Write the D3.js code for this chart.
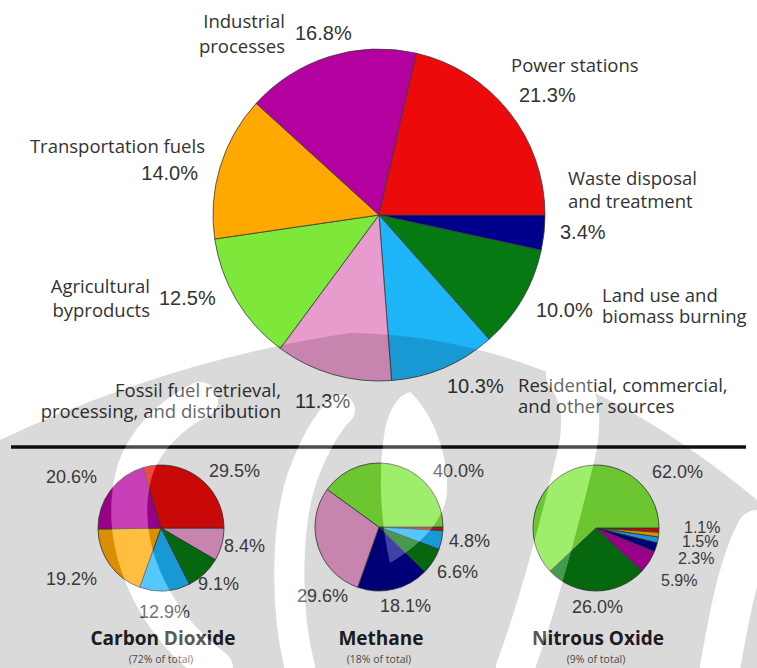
<!DOCTYPE html>
<html>
<head>
<meta charset="utf-8">
<script src="https://cdn.jsdelivr.net/npm/d3@7"></script>
<style>
  html, body { margin: 0; padding: 0; background: #ffffff; }
  svg { display: block; }
</style>
</head>
<body>
<script>
// Greenhouse gas emissions by sector, with the breakdown for each gas.

// Sources (clockwise from 3 o'clock) and their share of all emissions, %
const sources = [
  "Waste disposal and treatment",
  "Land use and biomass burning",
  "Residential, commercial, and other sources",
  "Fossil fuel retrieval, processing, and distribution",
  "Agricultural byproducts",
  "Transportation fuels",
  "Industrial processes",
  "Power stations"
];
const allShares = [3.4, 10.0, 10.3, 11.3, 12.5, 14.0, 16.8, 21.3];

// Colour of each source
const sourceColors = ["#00008c", "#067a12", "#1eb4f8", "#e89bcd", "#7ee83a", "#ffa800", "#b4009f", "#ec0a0a"];

// Carbon dioxide, clockwise from 3 o'clock
const co2Sources = [
  "Fossil fuel retrieval, processing, and distribution",
  "Land use and biomass burning",
  "Residential, commercial, and other sources",
  "Transportation fuels",
  "Industrial processes",
  "Power stations"
];
const co2Shares = [8.4, 9.1, 12.9, 19.2, 20.6, 29.5];

// Methane, clockwise from 3 o'clock
const ch4Sources = [
  "Power stations",
  "Residential, commercial, and other sources",
  "Land use and biomass burning",
  "Waste disposal and treatment",
  "Fossil fuel retrieval, processing, and distribution",
  "Agricultural byproducts"
];
const ch4Shares = [0.9, 4.8, 6.6, 18.1, 29.6, 40.0];

// Nitrous oxide, clockwise from 3 o'clock
const n2oSources = [
  "Power stations",
  "Transportation fuels",
  "Residential, commercial, and other sources",
  "Waste disposal and treatment",
  "Industrial processes",
  "Land use and biomass burning",
  "Agricultural byproducts"
];
const n2oShares = [1.1, 1.2, 1.5, 2.3, 5.9, 26.0, 62.0];

// Gas names and their share of the total
const gasNames = ["Carbon Dioxide", "Methane", "Nitrous Oxide"];
const gasTotals = ["(72% of total)", "(18% of total)", "(9% of total)"];

// Values that carry a printed label in the small pies
const co2Labelled = [8.4, 9.1, 12.9, 19.2, 20.6, 29.5];
const ch4Labelled = [4.8, 6.6, 18.1, 29.6, 40.0];
const n2oLabelled = [1.1, 1.5, 2.3, 5.9, 26.0, 62.0];

// ---------------------------------------------------------------------------
const W = 757, H = 668;
const svg = d3.select("body").append("svg")
  .attr("width", W).attr("height", H)
  .attr("viewBox", `0 0 ${W} ${H}`);

const color = d3.scaleOrdinal().domain(sources).range(sourceColors);
const fmt = d3.format(".1f");

const LABEL_FONT = "'Open Sans', 'Noto Sans', sans-serif";
const VALUE_FONT = "'Liberation Sans', Arial, sans-serif";

function drawPie(cx, cy, r, names, shares) {
  const pie = d3.pie().sort(null).value(d => d.v)
    .startAngle(Math.PI / 2).endAngle(Math.PI / 2 + 2 * Math.PI);
  const arc = d3.arc().innerRadius(0).outerRadius(r);
  const g = svg.append("g").attr("transform", `translate(${cx},${cy})`);
  g.selectAll("path")
    .data(pie(names.map((n, i) => ({ n, v: shares[i] }))))
    .join("path")
    .attr("d", arc)
    .attr("fill", d => color(d.data.n))
    .attr("stroke", "#3a3a3a")
    .attr("stroke-width", 0.8)
    .attr("stroke-linejoin", "round");
  return g;
}

// ---- main pie -------------------------------------------------------------
drawPie(379, 215, 166, sources, allShares);

// Category captions: lines, anchor, x, first baseline, line gap
const captionLayout = [
  { lines: ["Waste disposal", "and treatment"], anchor: "start", x: 568, y: 185, gap: 23 },
  { lines: ["Land use and", "biomass burning"], anchor: "start", x: 602, y: 302, gap: 21 },
  { lines: ["Residential, commercial,", "and other sources"], anchor: "start", x: 518, y: 392, gap: 21 },
  { lines: ["Fossil fuel retrieval,", "processing, and distribution"], anchor: "end", x: 281, y: 397, gap: 21 },
  { lines: ["Agricultural", "byproducts"], anchor: "end", x: 150, y: 293, gap: 24 },
  { lines: ["Transportation fuels"], anchor: "end", x: 205, y: 153, gap: 0 },
  { lines: ["Industrial", "processes"], anchor: "end", x: 285, y: 28, gap: 25 },
  { lines: ["Power stations"], anchor: "start", x: 511, y: 72, gap: 0 }
];
// Position of each percentage of the main pie: x, baseline, anchor
const valueLayout = [
  [560, 239, "start"], [536, 317, "start"], [447, 393, "start"], [295, 408, "start"],
  [159, 305, "start"], [198, 180, "end"], [295, 40, "start"], [519, 102, "start"]
];

const mainText = svg.append("g").attr("fill", "#333");
captionLayout.forEach(c => {
  const t = mainText.append("text")
    .attr("font-family", LABEL_FONT).attr("font-size", 18.5)
    .attr("text-anchor", c.anchor);
  c.lines.forEach((ln, i) => {
    t.append("tspan").attr("x", c.x).attr("y", c.y + i * c.gap).text(ln);
  });
});
allShares.forEach((v, i) => {
  const [x, y, a] = valueLayout[i];
  mainText.append("text")
    .attr("x", x).attr("y", y).attr("text-anchor", a)
    .attr("font-family", VALUE_FONT).attr("font-size", 20)
    .text(fmt(v) + "%");
});

// ---- divider --------------------------------------------------------------
svg.append("line")
  .attr("x1", 11).attr("x2", 746).attr("y1", 447).attr("y2", 447)
  .attr("stroke", "#111").attr("stroke-width", 3.5);

// ---- gas pies ---------------------------------------------------------------
const gasPies = [
  { cx: 161, cy: 528, r: 63, names: co2Sources, shares: co2Shares, labelled: co2Labelled, size: 18,
    spots: [[224, 552], [198, 590], [139, 618], [46, 585], [46, 483], [209, 477]] },
  { cx: 379, cy: 527, r: 64, names: ch4Sources, shares: ch4Shares, labelled: ch4Labelled, size: 18,
    spots: [[449, 547], [437, 578], [380, 612], [297, 602], [433, 477]] },
  { cx: 596, cy: 528, r: 63, names: n2oSources, shares: n2oShares, labelled: n2oLabelled, size: 16,
    spots: [[684, 533], [682, 547], [678, 564], [661, 586], [572, 613], [652, 478]] }
];

gasPies.forEach((p, gi) => {
  drawPie(p.cx, p.cy, p.r, p.names, p.shares);
  const lab = svg.append("g")
    .attr("fill", "#444").attr("font-family", VALUE_FONT);
  p.labelled.forEach((v, i) => {
    const big = i === p.labelled.length - 1 || v > 20;
    lab.append("text")
      .attr("x", p.spots[i][0]).attr("y", p.spots[i][1])
      .attr("font-size", big ? 18 : p.size)
      .text(fmt(v) + "%");
  });
  svg.append("text")
    .attr("x", p.cx + 2).attr("y", 645).attr("text-anchor", "middle")
    .attr("font-family", LABEL_FONT).attr("font-weight", 700).attr("font-size", 19)
    .attr("fill", "#222").text(gasNames[gi]);
  svg.append("text")
    .attr("x", p.cx).attr("y", 663).attr("text-anchor", "middle")
    .attr("font-family", LABEL_FONT).attr("font-size", 10.5)
    .attr("fill", "#555").text(gasTotals[gi]);
});

// ---- faint emblem printed over the lower half of the page -------------------
const defs = svg.append("defs");
const domePath = "M0,668 L0,440 Q170,360 350,333 Q560,335 757,500 L757,668 Z";
// curved strokes left unshaded inside the emblem
const bands = [
  { d: "M215,668 C150,620 115,540 135,470 C145,440 170,415 200,400", w: 36 },
  { d: "M515,668 C540,600 560,520 575,460 C585,420 580,395 565,375", w: 38 },
  { d: "M300,668 C285,610 285,520 305,470 C315,445 325,425 340,410", w: 30 },
  { d: "M720,668 C730,610 740,560 757,530", w: 40 }
];
// pointed leaf at the centre of the emblem
const leaf = "M390,563 C380,520 378,470 385,430 C390,405 400,395 410,392 C430,410 448,450 447,490 C446,520 420,545 390,563 Z";

const mask = defs.append("mask").attr("id", "emblem-mask")
  .attr("maskUnits", "userSpaceOnUse")
  .attr("x", 0).attr("y", 0).attr("width", W).attr("height", H);
mask.append("rect").attr("width", W).attr("height", H).attr("fill", "black");
mask.append("path").attr("d", domePath).attr("fill", "white");
bands.forEach(b => mask.append("path").attr("d", b.d)
  .attr("fill", "none").attr("stroke", "black").attr("stroke-width", b.w)
  .attr("stroke-linecap", "round"));
mask.append("path").attr("d", leaf).attr("fill", "black");

const emblem = svg.append("g").attr("pointer-events", "none");
emblem.append("rect").attr("width", W).attr("height", H)
  .attr("fill", "#000").attr("opacity", 0.14).attr("mask", "url(#emblem-mask)");
bands.forEach(b => emblem.append("path").attr("d", b.d)
  .attr("fill", "none").attr("stroke", "#fff").attr("stroke-opacity", 0.25)
  .attr("stroke-width", b.w).attr("stroke-linecap", "round"));
emblem.append("path").attr("d", leaf).attr("fill", "#fff").attr("fill-opacity", 0.25);
</script>
</body>
</html>
